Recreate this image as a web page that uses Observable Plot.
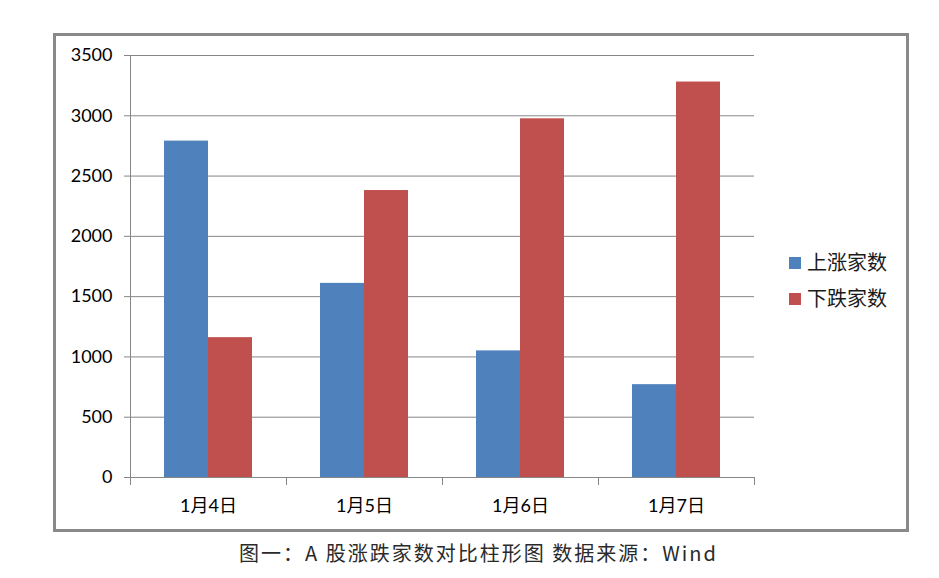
<!DOCTYPE html>
<html>
<head>
<meta charset="utf-8">
<script src="https://cdn.jsdelivr.net/npm/d3@7"></script>
<script src="https://cdn.jsdelivr.net/npm/@observablehq/plot@0.6"></script>
<style>
  html, body { margin: 0; padding: 0; background: #fff; }
  #wrap { position: relative; width: 939px; height: 578px; overflow: hidden; }
  #border { position: absolute; left: 53px; top: 33px; width: 856px; height: 499px; box-sizing: border-box; border: 3px solid #898989; pointer-events: none; }
  #legend { position: absolute; left: 789px; top: 247px; font-family: "Noto Sans CJK SC", sans-serif; font-size: 20px; color: #1a1a1a; }
  #legend .row { display: flex; align-items: center; height: 28px; margin-bottom: 8px; }
  #legend .sw { width: 12px; height: 12px; margin-right: 6px; margin-top: 3px; }
  #caption { position: absolute; left: 0; top: 539px; width: 957px; text-align: center; font-family: "Noto Sans CJK SC", sans-serif; font-size: 20px; letter-spacing: 2px; line-height: 28px; color: #2a2a2a; }
</style>
</head>
<body>
<div id="wrap">
  <div id="chart"></div>
  <div id="border"></div>
  <div id="legend"></div>
  <div id="caption"></div>
</div>
<script>
const dates = ["1月4日", "1月5日", "1月6日", "1月7日"];
const seriesNames = ["上涨家数", "下跌家数"];
const riseCounts = [2790, 1610, 1050, 770];
const fallCounts = [1160, 2380, 2975, 3280];
const yTicks = [0, 500, 1000, 1500, 2000, 2500, 3000, 3500];
const seriesColors = ["#4F81BD", "#C0504D"];
const captionText = "图一：A 股涨跌家数对比柱形图 数据来源：Wind";

const table = [];
dates.forEach((d, i) => {
  table.push({date: d, series: seriesNames[0], value: riseCounts[i]});
  table.push({date: d, series: seriesNames[1], value: fallCounts[i]});
});

const gray = "#868686";
const chart = Plot.plot({
  width: 939,
  height: 540,
  marginLeft: 128,
  marginRight: 184,
  marginTop: 55,
  marginBottom: 63,
  style: {fontFamily: "Lato, 'Noto Sans CJK SC', sans-serif", fontSize: "18px", background: "transparent", color: "#000"},
  fx: {domain: dates, padding: 0, axis: null},
  x: {domain: seriesNames, paddingInner: 0, paddingOuter: 0.74, axis: null},
  y: {domain: [0, 3500], axis: null},
  color: {domain: seriesNames, range: seriesColors},
  marks: [
    Plot.gridY(yTicks, {stroke: gray, strokeOpacity: 1}),
    Plot.barY(table, {fx: "date", x: "series", y: "value", fill: "series"}),
    Plot.ruleY([0], {stroke: gray}),
    Plot.frame({anchor: "left", insetTop: 422, insetBottom: -7, stroke: gray}),
    Plot.frame({anchor: "right", insetTop: 422, insetBottom: -7, stroke: gray}),
    Plot.frame({anchor: "left", facet: "super", stroke: gray}),
    Plot.axisY({ticks: yTicks, tickFormat: d => String(d), tickSize: 6, tickPadding: 12, stroke: gray, fill: "#000", label: null}),
    Plot.axisFx({anchor: "bottom", tickSize: 0, tickPadding: 22, fill: "#000", label: null})
  ]
});
document.getElementById("chart").appendChild(chart);

const legend = document.getElementById("legend");
seriesNames.forEach((s, i) => {
  const row = document.createElement("div");
  row.className = "row";
  const sw = document.createElement("div");
  sw.className = "sw";
  sw.style.background = seriesColors[i];
  const t = document.createElement("span");
  t.textContent = s;
  row.appendChild(sw);
  row.appendChild(t);
  legend.appendChild(row);
});
document.getElementById("caption").textContent = captionText;
</script>
</body>
</html>
